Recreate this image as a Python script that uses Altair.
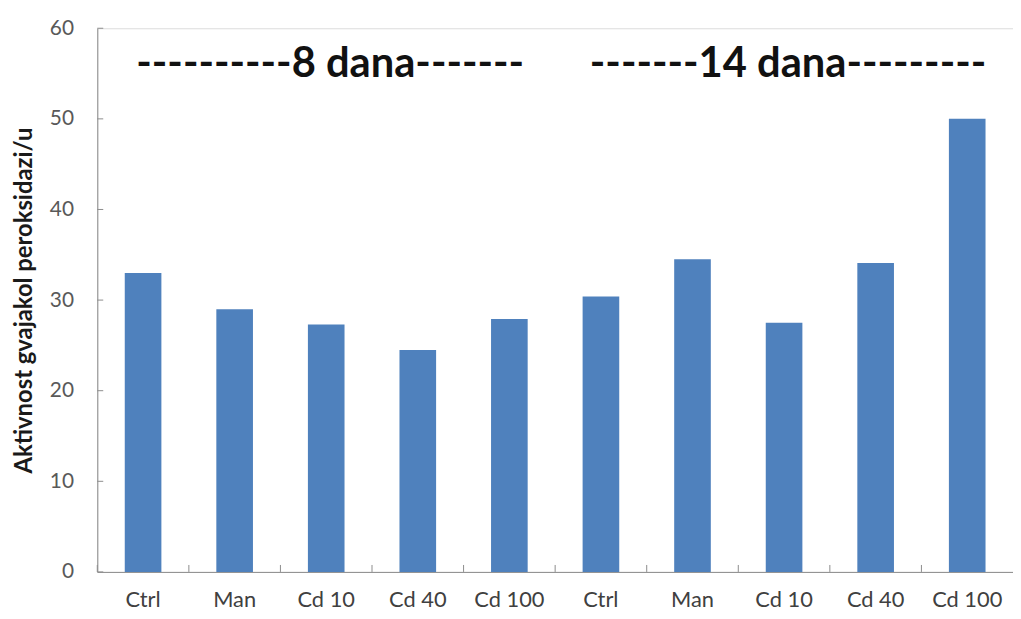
import altair as alt
import pandas as pd

keys = ["8|Ctrl", "8|Man", "8|Cd 10", "8|Cd 40", "8|Cd 100",
        "14|Ctrl", "14|Man", "14|Cd 10", "14|Cd 40", "14|Cd 100"]
values = [33.0, 29.0, 27.3, 24.5, 27.9, 30.4, 34.5, 27.5, 34.1, 50.0]

ann_keys = ["8|Cd 10", "14|Cd 10"]
ann_y = [56.0, 56.0]
ann_text = ["----------8 dana-------", "-------14 dana---------"]

y_ticks = [0, 10, 20, 30, 40, 50, 60]

df = pd.DataFrame({"key": keys, "value": values})
ann = pd.DataFrame({"key": ann_keys, "y": ann_y, "text": ann_text})
yt = pd.DataFrame({"t": y_ticks})

FONT = "Lato"
W, H = 923, 548
P_IN, P_OUT = 0.6, 0.3
STEP = W / (len(keys) - P_IN + 2 * P_OUT)
GREY = "#8c8c8c"

xscale = alt.Scale(domain=keys, paddingInner=P_IN, paddingOuter=P_OUT)
yscale = alt.Scale(domain=[0, 60], nice=False)

bars = alt.Chart(df).mark_bar(color="#4F81BD").encode(
    x=alt.X(
        "key:N",
        sort=keys,
        scale=xscale,
        axis=alt.Axis(
            title=None,
            labelExpr="split(datum.label, '|')[1]",
            labelAngle=0,
            labelFont=FONT,
            labelFontSize=22,
            labelColor="#404040",
            labelPadding=18,
            domainColor=GREY,
            ticks=False,
            grid=False,
        ),
    ),
    y=alt.Y(
        "value:Q",
        scale=yscale,
        axis=alt.Axis(
            title="Aktivnost gvajakol peroksidazi/u",
            titleFont=FONT,
            titleFontSize=24,
            titleFontWeight="bold",
            titleColor="#1a1a1a",
            titlePadding=13,
            values=y_ticks,
            labelFont=FONT,
            labelFontSize=21,
            labelColor="#595959",
            labelPadding=24,
            domainColor=GREY,
            ticks=False,
            grid=False,
        ),
    ),
)

ytick_marks = alt.Chart(yt).mark_rule(color=GREY, strokeWidth=1).encode(
    y=alt.Y("t:Q", scale=yscale),
    x=alt.value(0),
    x2=alt.value(6),
)

xtick_marks = alt.Chart(df).mark_rule(color=GREY, strokeWidth=1, xOffset=-STEP / 2).encode(
    x=alt.X("key:N", sort=keys, scale=xscale),
    y=alt.value(H - 7),
    y2=alt.value(H),
)

texts = alt.Chart(ann).mark_text(
    font=FONT, fontSize=42, fontWeight="bold", color="#111111", baseline="middle", dx=4
).encode(
    x=alt.X("key:N", sort=keys, scale=xscale),
    y=alt.Y("y:Q", scale=yscale),
    text="text:N",
)

chart = alt.layer(bars, ytick_marks, xtick_marks, texts).properties(
    width=W,
    height=H,
    padding={"left": 90, "top": 18, "right": 0, "bottom": 40},
    autosize=alt.AutoSizeParams(type="none"),
).configure_view(stroke=None).configure(background="white")

chart.save("out.html", embed_options={"renderer": "svg", "actions": False})
